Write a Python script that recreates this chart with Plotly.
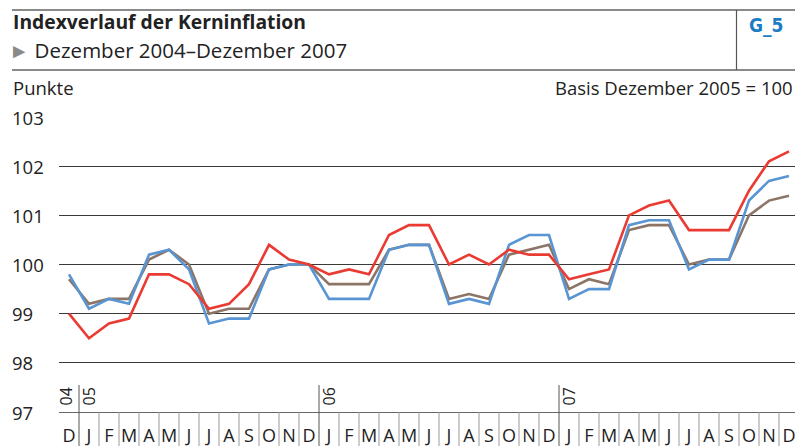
import plotly.graph_objects as go

months = ["D", "J", "F", "M", "A", "M", "J", "J", "A", "S", "O", "N",
          "D", "J", "F", "M", "A", "M", "J", "J", "A", "S", "O", "N",
          "D", "J", "F", "M", "A", "M", "J", "J", "A", "S", "O", "N", "D"]
years = ["04", "05", "06", "07"]
year_first_index = [0, 1, 13, 25]

red = [99.0, 98.5, 98.8, 98.9, 99.8, 99.8, 99.6, 99.1, 99.2, 99.6, 100.4, 100.1,
       100.0, 99.8, 99.9, 99.8, 100.6, 100.8, 100.8, 100.0, 100.2, 100.0, 100.3, 100.2,
       100.2, 99.7, 99.8, 99.9, 101.0, 101.2, 101.3, 100.7, 100.7, 100.7, 101.5, 102.1,
       102.3]
blue = [99.8, 99.1, 99.3, 99.2, 100.2, 100.3, 99.9, 98.8, 98.9, 98.9, 99.9, 100.0,
        100.0, 99.3, 99.3, 99.3, 100.3, 100.4, 100.4, 99.2, 99.3, 99.2, 100.4, 100.6,
        100.6, 99.3, 99.5, 99.5, 100.8, 100.9, 100.9, 99.9, 100.1, 100.1, 101.3, 101.7,
        101.8]
brown = [99.7, 99.2, 99.3, 99.3, 100.1, 100.3, 100.0, 99.0, 99.1, 99.1, 99.9, 100.0,
         100.0, 99.6, 99.6, 99.6, 100.3, 100.4, 100.4, 99.3, 99.4, 99.3, 100.2, 100.3,
         100.4, 99.5, 99.7, 99.6, 100.7, 100.8, 100.8, 100.0, 100.1, 100.1, 101.0, 101.3,
         101.4]
y_ticks = [97, 98, 99, 100, 101, 102, 103]

idx = list(range(len(months)))
FONT = "Open Sans"
TXT = "#222222"

fig = go.Figure()
fig.add_trace(go.Scatter(x=idx, y=brown, mode="lines", line=dict(color="#8c7566", width=2.6), hoverinfo="skip"))
fig.add_trace(go.Scatter(x=idx, y=blue, mode="lines", line=dict(color="#5a95d3", width=2.6), hoverinfo="skip"))
fig.add_trace(go.Scatter(x=idx, y=red, mode="lines", line=dict(color="#ea3b33", width=2.6), hoverinfo="skip"))

W, H = 795, 448
L, T, B = 59, 117, 36
PW = W - L
PH = H - T - B

def px(x):
    return (x - L) / PW

def py(y):
    return (H - B - y) / PH

shapes = []
ann = []
# header lines
for yy in (10, 70):
    shapes.append(dict(type="line", xref="paper", yref="paper", x0=px(12), x1=1.0,
                       y0=py(yy), y1=py(yy), line=dict(color="#8a8a8a", width=2)))
shapes.append(dict(type="line", xref="paper", yref="paper", x0=px(736.5), x1=px(736.5),
                   y0=py(10), y1=py(70), line=dict(color="#555555", width=1.2)))
# month separators
for i in range(1, len(months)):
    top = 0
    col = "#9a9a9a"
    if i in year_first_index:
        top = py(385)
        col = "#555555"
    shapes.append(dict(type="line", xref="x", yref="paper", x0=i - 0.5, x1=i - 0.5,
                       y0=py(446), y1=top, line=dict(color=col, width=1)))

ann.append(dict(text="<b>Indexverlauf der Kerninflation</b>", xref="paper", yref="paper",
                x=px(11), y=py(22), xanchor="left", yanchor="middle", showarrow=False,
                font=dict(family=FONT, size=19.3, color=TXT)))
ann.append(dict(text="<span style='color:#8a8a8a'>►</span> Dezember 2004–Dezember 2007", xref="paper", yref="paper",
                x=px(7), y=py(50), xanchor="left", yanchor="middle", showarrow=False,
                font=dict(family=FONT, size=20.5, color=TXT)))
ann.append(dict(text="<b>G_5</b>", xref="paper", yref="paper",
                x=px(766), y=py(25), xanchor="center", yanchor="middle", showarrow=False,
                font=dict(family="DejaVu Sans Condensed, DejaVu Sans", size=19, color="#1b7cc4")))
ann.append(dict(text="Punkte", xref="paper", yref="paper",
                x=px(11), y=py(87), xanchor="left", yanchor="middle", showarrow=False,
                font=dict(family=FONT, size=18.5, color=TXT)))
ann.append(dict(text="Basis Dezember 2005 = 100", xref="paper", yref="paper",
                x=1.0, y=py(87), xanchor="right", yanchor="middle", showarrow=False,
                font=dict(family=FONT, size=18.5, color=TXT)))
for v in y_ticks:
    ann.append(dict(text=str(v), xref="paper", yref="y", x=px(10), y=v,
                    xanchor="left", yanchor="middle", showarrow=False,
                    font=dict(family=FONT, size=18.5, color=TXT)))
for k, (yr, fi) in enumerate(zip(years, year_first_index)):
    if k == 0:
        xb, shift = 0.5, -14
    else:
        xb, shift = fi - 0.5, 9
    ann.append(dict(text=yr, xref="x", yref="paper", x=xb, y=py(396.5), xshift=shift,
                    xanchor="center", yanchor="middle", textangle=-90, showarrow=False,
                    font=dict(family=FONT, size=16, color=TXT)))

fig.update_layout(
    width=W, height=H, margin=dict(l=L, r=0, t=T, b=B),
    paper_bgcolor="white", plot_bgcolor="white", showlegend=False,
    shapes=shapes, annotations=ann,
    xaxis=dict(range=[-0.5, 36.3], tickvals=idx, ticktext=months, showgrid=False,
               zeroline=False, showline=True, linecolor="#666666", linewidth=1.2,
               ticks="", tickfont=dict(family=FONT, size=18, color=TXT), ticklabelstandoff=7,
               ticklabeloverflow="allow"),
    yaxis=dict(range=[97, 103], tickvals=y_ticks, showticklabels=False, showgrid=True,
               gridcolor="#3a3a3a", gridwidth=1.2, zeroline=False, ticks=""),
)
fig.write_html("out.html", config={"displayModeBar": False},
               post_script="document.body.style.margin='0px';document.body.style.overflow='hidden';")
